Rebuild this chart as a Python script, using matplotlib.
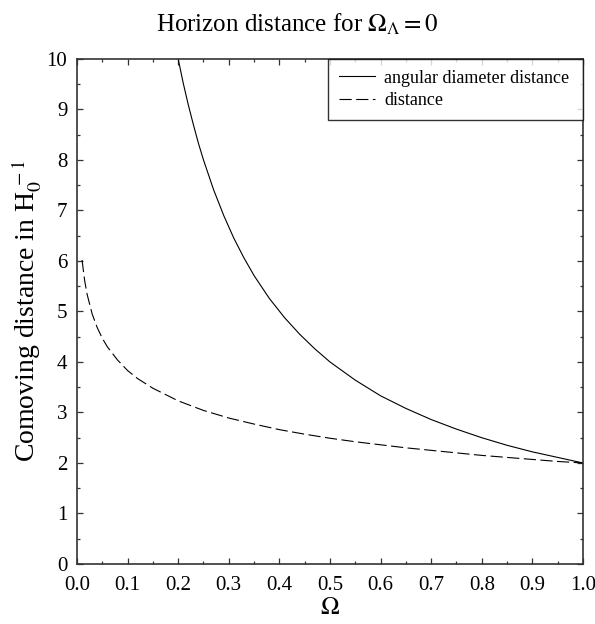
import matplotlib
matplotlib.use("Agg")
import matplotlib.pyplot as plt
from matplotlib.ticker import MultipleLocator, FormatStrFormatter

plt.rcParams['font.family'] = ['Liberation Serif', 'DejaVu Serif']
plt.rcParams['mathtext.fontset'] = 'stix'

# Horizon distance in units of c/H0 as a function of Omega (Omega_Lambda = 0)
omega_ang = [0.20, 0.21, 0.22, 0.23, 0.24, 0.25, 0.27, 0.29, 0.31, 0.33,
             0.35, 0.38, 0.41, 0.44, 0.47, 0.50, 0.55, 0.60, 0.65, 0.70,
             0.75, 0.80, 0.85, 0.90, 0.95, 1.00]
ang_dist = [10.00, 9.52, 9.09, 8.70, 8.33, 8.00, 7.41, 6.90, 6.45, 6.06,
            5.71, 5.26, 4.88, 4.55, 4.26, 4.00, 3.64, 3.33, 3.08, 2.86,
            2.67, 2.50, 2.35, 2.22, 2.11, 2.00]

omega_com = [0.01, 0.015, 0.02, 0.03, 0.04, 0.05, 0.06, 0.08, 0.10, 0.12,
             0.15, 0.20, 0.25, 0.30, 0.35, 0.40, 0.45, 0.50, 0.55, 0.60,
             0.65, 0.70, 0.75, 0.80, 0.85, 0.90, 0.95, 1.00]
com_dist = [6.02, 5.62, 5.34, 4.95, 4.68, 4.47, 4.30, 4.04, 3.83, 3.67,
            3.48, 3.23, 3.04, 2.89, 2.77, 2.66, 2.57, 2.49, 2.42, 2.36,
            2.30, 2.25, 2.20, 2.15, 2.11, 2.07, 2.03, 2.00]

fig = plt.figure(figsize=(5.95, 6.24), dpi=100)
ax = fig.add_axes([0.1294, 0.0962, 0.8504, 0.8093])

ax.plot(omega_ang, ang_dist, color='black', lw=0.8, label='angular diameter distance')
ax.plot(omega_com, com_dist, color='black', lw=0.8, linestyle=(0, (11, 4)), label='distance')

ax.set_xlim(0.0, 1.0)
ax.set_ylim(0, 10)
ax.xaxis.set_major_locator(MultipleLocator(0.1))
ax.xaxis.set_minor_locator(MultipleLocator(0.05))
ax.yaxis.set_major_locator(MultipleLocator(1))
ax.yaxis.set_minor_locator(MultipleLocator(0.5))
ax.xaxis.set_major_formatter(FormatStrFormatter('%.1f'))

ax.tick_params(which='both', direction='in', top=True, right=True,
               labelsize=15, width=0.9, color='#333333')
ax.tick_params(which='major', length=4)
ax.tick_params(axis='x', which='major', pad=9)
ax.tick_params(axis='y', which='major', pad=7)
ax.tick_params(which='minor', length=2.5)
for sp in ax.spines.values():
    sp.set_linewidth(1.2)
    sp.set_color('#333333')

ax.set_xlabel(r'$\Omega$', fontsize=18, labelpad=1)
ax.set_ylabel(r'Comoving distance in H$_0^{\,-1}$', fontsize=20, labelpad=2)

fig.text(0.5, 0.950, r'Horizon distance for $\Omega_\Lambda = 0$',
         ha='center', va='baseline', fontsize=18)

leg = ax.legend(loc='upper left', bbox_to_anchor=(0.496, 0, 0.504, 1.0),
                mode='expand', borderaxespad=0, fontsize=13, frameon=True,
                fancybox=False, handlelength=2.0, handletextpad=0.5,
                borderpad=0.6, labelspacing=0.3)
leg.get_frame().set_edgecolor('black')
leg.get_frame().set_linewidth(1.0)

fig.savefig('out.png', dpi=100)
plt.close()
